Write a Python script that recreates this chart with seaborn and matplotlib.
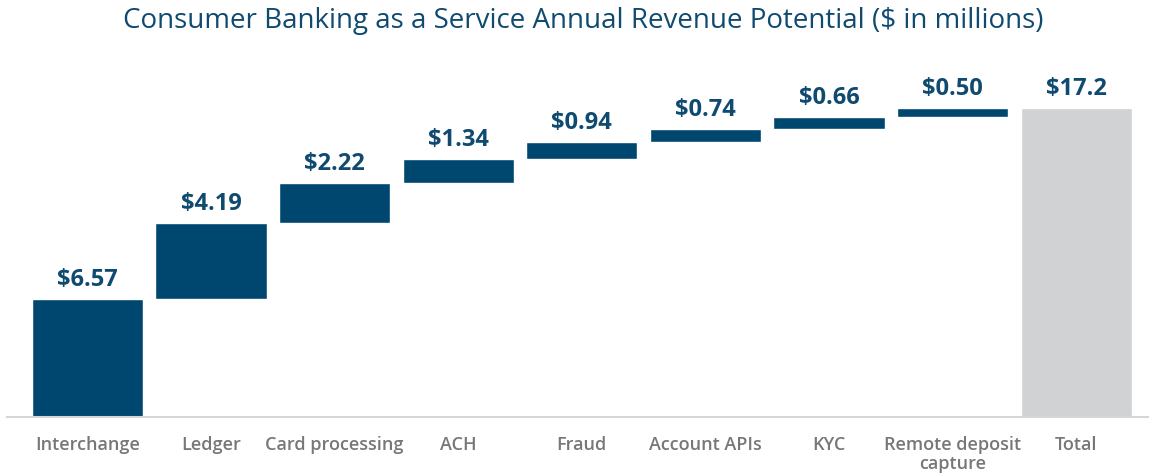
"""Waterfall chart: consumer BaaS annual revenue potential."""

import pandas as pd
import matplotlib.pyplot as plt
import seaborn as sns

categories = ["Interchange", "Ledger", "Card processing", "ACH", "Fraud",
              "Account APIs", "KYC", "Remote deposit\ncapture", "Total"]
values = [6.57, 4.19, 2.22, 1.34, 0.94, 0.74, 0.66, 0.50]
total_label = "$17.2"

BLUE = "#00476f"
GREY = "#d0d2d3"
TEXT_BLUE = "#0f4a70"

# build running bases for the waterfall
bases, run = [], 0.0
for v in values:
    bases.append(run)
    run += v
df = pd.DataFrame({
    "category": categories,
    "value": values + [run],
    "base": bases + [0.0],
    "label": [f"${v:.2f}" for v in values] + [total_label],
})

sns.set_style("white")
plt.rcParams["font.family"] = ["Open Sans", "DejaVu Sans"]

fig = plt.figure(figsize=(11.49, 4.76), dpi=100)
ax = fig.add_axes([0.006, 0.124, 0.994, 0.75])

sns.barplot(data=df, x="category", y="value", color=BLUE, bottom=df["base"].values,
            width=0.9, saturation=1, errorbar=None, ax=ax)
ax.patches[-1].set_facecolor(GREY)

for i, row in df.iterrows():
    ax.annotate(row["label"], (i, row["base"] + row["value"]),
                xytext=(0, 5), textcoords="offset points",
                ha="center", va="bottom", fontsize=17, fontweight="bold",
                color=TEXT_BLUE)

ax.set_xlim(-0.651, 8.588)
ax.set_ylim(0, 357 / 18.0)
ax.set_xlabel("")
ax.set_ylabel("")
ax.set_yticks([])
ax.tick_params(axis="x", length=0, pad=14, labelsize=13, labelcolor="#777777")
for lbl in ax.get_xticklabels():
    lbl.set_fontweight("semibold")
    lbl.set_linespacing(1.05)
ax.spines[["top", "right", "left"]].set_visible(False)
ax.spines["bottom"].set_color("#d6d6d6")
ax.spines["bottom"].set_linewidth(1.5)

fig.text(0.508, 0.955, "Consumer Banking as a Service Annual Revenue Potential ($ in millions)",
         ha="center", va="center", fontsize=20, color=TEXT_BLUE)

fig.savefig("out.png", dpi=100)
